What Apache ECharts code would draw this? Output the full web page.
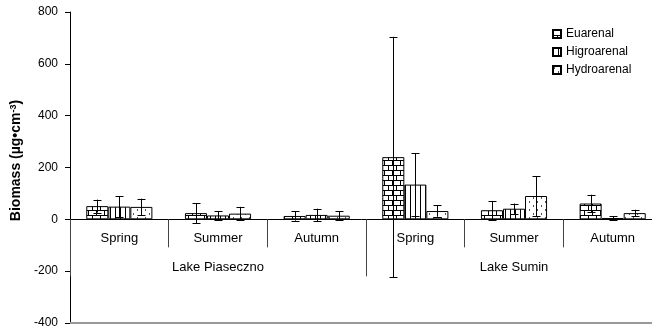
<!DOCTYPE html>
<html><head><meta charset="utf-8">
<script src="https://cdn.jsdelivr.net/npm/echarts@6/dist/echarts.min.js"></script>
<style>html,body{margin:0;padding:0;background:#fff}#c{width:652px;height:331px}</style>
</head><body><div id="c"></div>
<script>
const categories = ['Spring', 'Summer', 'Autumn', 'Spring', 'Summer', 'Autumn'];
const lakes = ['Lake Piaseczno', 'Lake Sumin'];
const seriesNames = ['Euarenal', 'Higroarenal', 'Hydroarenal'];
const euarenal = [51, 24, 13, 240, 35, 61];
const euarenalErr = [25, 38, 18, 464, 36, 34];
const higroarenal = [49, 15, 17, 134, 41, 5];
const higroarenalErr = [40, 17, 24, 122, 20, 8];
const hydroarenal = [48, 22, 14, 32, 90, 24];
const hydroarenalErr = [32, 26, 17, 22, 77, 13];
const yMin = -400, yMax = 800, yStep = 200;

function makePattern(kind) {
  const c = document.createElement('canvas');
  let ctx;
  if (kind === 'brick') {
    c.width = 8; c.height = 10; ctx = c.getContext('2d');
    ctx.fillStyle = '#fff'; ctx.fillRect(0, 0, 8, 10);
    ctx.fillStyle = '#000';
    ctx.fillRect(0, 0, 8, 1); ctx.fillRect(0, 5, 8, 1);
    ctx.fillRect(0, 0, 1, 5); ctx.fillRect(4, 5, 1, 5);
  } else if (kind === 'vert') {
    c.width = 5; c.height = 4; ctx = c.getContext('2d');
    ctx.fillStyle = '#fff'; ctx.fillRect(0, 0, 5, 4);
    ctx.fillStyle = '#000'; ctx.fillRect(0, 0, 1, 4);
  } else {
    c.width = 8; c.height = 8; ctx = c.getContext('2d');
    ctx.fillStyle = '#fff'; ctx.fillRect(0, 0, 8, 8);
    ctx.fillStyle = '#555';
    ctx.fillRect(1, 1, 1, 2); ctx.fillRect(5, 5, 1, 2);
  }
  return { image: c, repeat: 'repeat' };
}
const patterns = [makePattern('brick'), makePattern('vert'), makePattern('dots')];
const values = [euarenal, higroarenal, hydroarenal];
const errors = [euarenalErr, higroarenalErr, hydroarenalErr];
const GAP = 0.33;
const font = 'Liberation Sans, Arial, sans-serif';

const series = [];
values.forEach((vals, idx) => {
  const s = {
    type: 'bar', name: seriesNames[idx], data: vals, xAxisIndex: 0, yAxisIndex: 0,
    barGap: '0%', barCategoryGap: (GAP * 100) + '%',
    itemStyle: { color: patterns[idx], borderColor: '#000', borderWidth: 1 },
    silent: true
  };
  if (idx === 0) {
    s.markLine = {
      silent: true, symbol: 'none', label: { show: false },
      lineStyle: { color: '#999', width: 2, type: 'solid' },
      data: [{ yAxis: yMin }]
    };
  }
  series.push(s);
});
values.forEach((vals, idx) => {
  const errs = errors[idx];
  series.push({
    type: 'custom', name: seriesNames[idx] + ' error', xAxisIndex: 0, yAxisIndex: 0, z: 5,
    silent: true,
    data: vals.map((v, i) => [i, v - errs[i], v + errs[i]]),
    encode: { x: 0, y: [1, 2] },
    renderItem: (params, api) => {
      const ci = api.value(0);
      const lo = api.coord([ci, api.value(1)]);
      const hi = api.coord([ci, api.value(2)]);
      const band = api.size([1, 0])[0];
      const bw = band * (1 - GAP) / 3;
      const x = Math.round(lo[0] + (idx - 1) * bw) + 0.5;
      const cap = 4;
      const st = { stroke: '#000', lineWidth: 1 };
      return {
        type: 'group', children: [
          { type: 'line', shape: { x1: x, y1: lo[1], x2: x, y2: hi[1] }, style: st },
          { type: 'line', shape: { x1: x - cap, y1: Math.round(hi[1]) + 0.5, x2: x + cap, y2: Math.round(hi[1]) + 0.5 }, style: st },
          { type: 'line', shape: { x1: x - cap, y1: Math.round(lo[1]) + 0.5, x2: x + cap, y2: Math.round(lo[1]) + 0.5 }, style: st }
        ]
      };
    }
  });
});

const chart = echarts.init(document.getElementById('c'), null, { renderer: 'canvas' });
chart.setOption({
  animation: false,
  backgroundColor: '#fff',
  textStyle: { fontFamily: font },
  grid: { left: 70, top: 12, width: 592, height: 311, outerBoundsMode: 'none', containLabel: false },
  legend: {
    data: seriesNames, orient: 'vertical', left: 547, top: 23,
    itemWidth: 8, itemHeight: 8, itemGap: 6, icon: 'rect', selectedMode: false,
    textStyle: { fontSize: 12, color: '#000', fontFamily: font }
  },
  xAxis: [
    {
      type: 'category', data: categories, position: 'bottom',
      axisLine: { show: true, onZero: true, lineStyle: { color: '#000', width: 1 } },
      axisTick: { show: true, length: 28, lineStyle: { color: '#444' } },
      axisLabel: { show: true, interval: 0, margin: -91, color: '#000', fontSize: 13, fontFamily: font },
      splitLine: { show: false }
    },
    {
      type: 'category', data: lakes, position: 'bottom',
      axisLine: { show: false, onZero: true, onZeroAxisIndex: 0, lineStyle: { color: '#000', width: 1 } },
      axisTick: { show: true, length: 57, lineStyle: { color: '#444' } },
      axisLabel: { show: true, interval: 0, margin: -62, color: '#000', fontSize: 13, fontFamily: font },
      splitLine: { show: false }
    }
  ],
  yAxis: {
    type: 'value', min: yMin, max: yMax, interval: yStep,
    axisLine: { show: true, onZero: false, lineStyle: { color: '#000' } },
    axisTick: { show: true, length: 5, lineStyle: { color: '#000' } },
    splitLine: { show: false },
    axisLabel: { color: '#000', fontSize: 12, margin: 12, fontFamily: font },
    name: '{a|Biomass (µg•cm}{s|-3}{a|)}',
    nameLocation: 'middle', nameGap: 36, nameRotate: 90,
    nameTextStyle: {
      padding: [0, 0, 0, 14],
      rich: {
        a: { fontSize: 14, fontWeight: 'bold', color: '#000', fontFamily: font },
        s: { fontSize: 9, fontWeight: 'bold', color: '#000', fontFamily: font, verticalAlign: 'top' }
      }
    }
  },
  series: series
});
</script></body></html>
